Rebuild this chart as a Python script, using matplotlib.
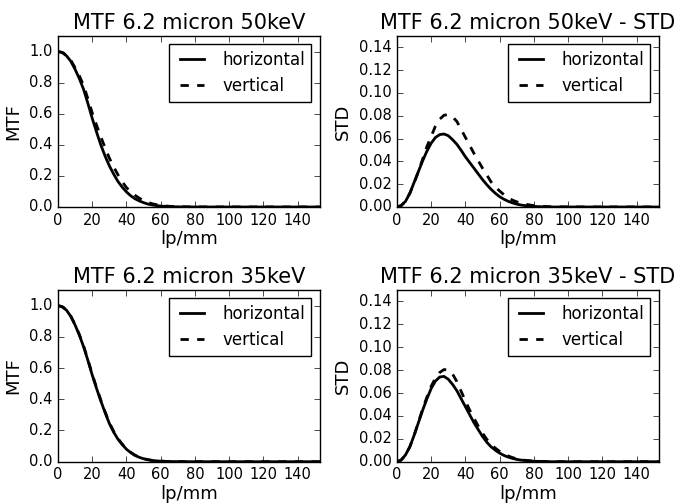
import numpy as np
import matplotlib
matplotlib.use("Agg")
from matplotlib import pyplot as plt

plt.style.use("classic")

freq = [0, 2.5, 5, 7.5, 10, 12.5, 15, 17.5, 20, 22.5, 25, 27.5, 30, 32.5, 35, 37.5, 40,
        42.5, 45, 47.5, 50, 52.5, 55, 57.5, 60, 62.5, 65, 67.5, 70, 72.5, 75, 77.5, 80,
        85, 90, 100, 120, 140, 153]

# MTF 50keV
mtf50_h = [1.0, 0.993, 0.972, 0.937, 0.885, 0.825, 0.755, 0.665, 0.57, 0.483, 0.40, 0.328, 0.265,
           0.212, 0.165, 0.128, 0.097, 0.072, 0.053, 0.039, 0.028, 0.019, 0.013, 0.009, 0.006,
           0.004, 0.0025, 0.0016, 0.001, 0.0006, 0.0004, 0.0002, 0.0001, 0.0, 0.0, 0.0, 0.0, 0.0, 0.0]
mtf50_v = [1.0, 0.994, 0.976, 0.944, 0.895, 0.843, 0.78, 0.695, 0.605, 0.527, 0.452, 0.381, 0.315,
           0.258, 0.208, 0.163, 0.125, 0.098, 0.075, 0.057, 0.041, 0.03, 0.021, 0.015, 0.01,
           0.0068, 0.0045, 0.003, 0.002, 0.0013, 0.0008, 0.0005, 0.0003, 0.0001, 0.0, 0.0, 0.0, 0.0, 0.0]
# STD 50keV
std50_h = [0.0, 0.0013, 0.005, 0.012, 0.0215, 0.031, 0.0405, 0.049, 0.056, 0.061, 0.0635, 0.064, 0.0625,
           0.059, 0.055, 0.0497, 0.044, 0.039, 0.034, 0.029, 0.024, 0.0195, 0.0155, 0.012, 0.009,
           0.0068, 0.005, 0.0036, 0.0025, 0.0017, 0.0012, 0.0008, 0.0005, 0.0002, 0.0, 0.0, 0.0, 0.0, 0.0]
std50_v = [0.0, 0.0013, 0.005, 0.012, 0.021, 0.031, 0.042, 0.053, 0.062, 0.071, 0.077, 0.0805, 0.081,
           0.079, 0.075, 0.068, 0.061, 0.054, 0.047, 0.0405, 0.034, 0.028, 0.022, 0.0175, 0.014,
           0.0108, 0.008, 0.006, 0.0045, 0.0034, 0.0025, 0.0018, 0.0012, 0.0005, 0.0002, 0.0, 0.0, 0.0, 0.0]

# MTF 35keV
mtf35_h = [1.0, 0.992, 0.97, 0.93, 0.875, 0.81, 0.735, 0.648, 0.555, 0.47, 0.39, 0.315, 0.245,
           0.19, 0.145, 0.11, 0.08, 0.058, 0.04, 0.028, 0.019, 0.0125, 0.008, 0.0053, 0.0035,
           0.0022, 0.0014, 0.0009, 0.0005, 0.0003, 0.0002, 0.0001, 0.0001, 0.0, 0.0, 0.0, 0.0, 0.0, 0.0]
mtf35_v = [1.0, 0.993, 0.971, 0.932, 0.878, 0.814, 0.74, 0.653, 0.56, 0.476, 0.395, 0.32, 0.25,
           0.195, 0.149, 0.113, 0.083, 0.06, 0.042, 0.029, 0.02, 0.013, 0.0085, 0.0056, 0.0037,
           0.0024, 0.0015, 0.001, 0.0006, 0.0004, 0.0002, 0.0001, 0.0001, 0.0, 0.0, 0.0, 0.0, 0.0, 0.0]
# STD 35keV
std35_h = [0.0, 0.0015, 0.006, 0.013, 0.023, 0.034, 0.045, 0.055, 0.064, 0.0705, 0.074, 0.0745, 0.072,
           0.0675, 0.062, 0.055, 0.048, 0.041, 0.034, 0.028, 0.022, 0.017, 0.013, 0.010, 0.0075,
           0.0055, 0.004, 0.0029, 0.002, 0.0014, 0.001, 0.0007, 0.0004, 0.0002, 0.0, 0.0, 0.0, 0.0, 0.0]
std35_v = [0.0, 0.0015, 0.006, 0.013, 0.023, 0.0345, 0.046, 0.0565, 0.066, 0.073, 0.078, 0.0805, 0.080,
           0.0765, 0.070, 0.0615, 0.053, 0.045, 0.038, 0.031, 0.025, 0.0195, 0.015, 0.0118, 0.009,
           0.0068, 0.005, 0.0036, 0.0025, 0.0018, 0.0012, 0.0008, 0.0005, 0.0002, 0.0, 0.0, 0.0, 0.0, 0.0]

titles = ["MTF 6.2 micron 50keV", "MTF 6.2 micron 50keV - STD",
          "MTF 6.2 micron 35keV", "MTF 6.2 micron 35keV - STD"]

fig = plt.figure(figsize=(6.8, 5.03), dpi=100, facecolor="white")

# axes boxes [left, bottom, width, height] in figure fraction
boxes = [[0.0853, 0.5885, 0.385, 0.3400],
         [0.5838, 0.5885, 0.385, 0.3400],
         [0.0853, 0.0821, 0.385, 0.3414],
         [0.5838, 0.0821, 0.385, 0.3414]]

data = [(mtf50_h, mtf50_v), (std50_h, std50_v), (mtf35_h, mtf35_v), (std35_h, std35_v)]

for i in range(4):
    ax = fig.add_axes(boxes[i])
    h, v = data[i]
    ax.plot(freq, h, "k-", lw=2, label="horizontal")
    ax.plot(freq, v, "k--", lw=2, label="vertical")
    ax.set_xlim(0, freq[-1])
    ax.set_xticks(np.arange(0, 141, 20))
    if i % 2 == 0:
        ax.set_ylim(0, 1.1)
        ax.set_yticks(np.arange(0, 1.01, 0.2))
        ax.set_ylabel("MTF", fontsize=13)
    else:
        ax.set_ylim(0, 0.15)
        ax.set_yticks(np.arange(0, 0.141, 0.02))
        ax.set_ylabel("STD", fontsize=13)
    ax.set_xlabel("lp/mm", fontsize=13, labelpad=2)
    ax.set_title(titles[i], fontsize=15)
    ax.tick_params(labelsize=10.5)
    ax.legend(loc="upper right", fontsize=12, handlelength=2)

fig.savefig("out.png", dpi=100, facecolor="white")
